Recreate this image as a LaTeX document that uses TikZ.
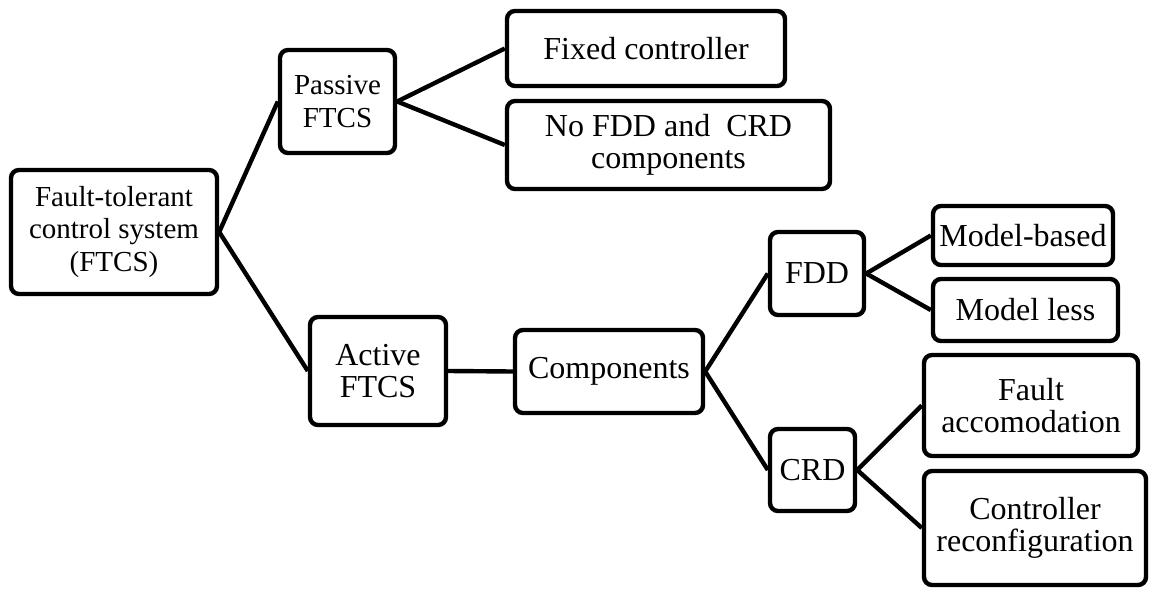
\documentclass[tikz,border=0pt]{standalone}
\usepackage{fontspec}
\setmainfont{Liberation Serif}
\begin{document}
\begin{tikzpicture}[x=0.5pt,y=-0.5pt,
  box/.style={draw=black,line width=2.2pt,rounded corners=4pt,align=center,inner sep=0pt,
    font=\fontsize{16}{16.3}\selectfont},
  smallbox/.style={box,font=\fontsize{14.5}{16.3}\selectfont},
  link/.style={line width=2.2pt}]
\useasboundingbox (0,0) rectangle (1149,588);
\node[smallbox,minimum width=103pt,minimum height=62pt] (root) at (114,232) {Fault-tolerant\\control system\\(FTCS)};
\node[smallbox,minimum width=57.5pt,minimum height=51.5pt] (passive) at (337.5,101.5) {Passive\\FTCS};
\node[box,minimum width=139pt,minimum height=37.5pt] (fixed) at (646,48.5) {Fixed controller};
\node[box,minimum width=161.5pt,minimum height=44pt] (nofdd) at (668.5,145) {No FDD and\ \ CRD\\components};
\node[box,minimum width=68pt,minimum height=54pt] (active) at (378,371) {Active\\FTCS};
\node[box,minimum width=94pt,minimum height=41.5pt] (comp) at (609,371.5) {Components};
\node[box,minimum width=47pt,minimum height=41.5pt] (fdd) at (817,273.5) {FDD};
\node[box,minimum width=90pt,minimum height=29.5pt] (mb) at (1023,235.5) {Model-based};
\node[box,minimum width=92.5pt,minimum height=31pt] (ml) at (1025.5,310) {Model less};
\node[box,minimum width=42.5pt,minimum height=41pt] (crd) at (812.5,470) {CRD};
\node[box,minimum width=107pt,minimum height=50.5pt] (fa) at (1031,405.5) {Fault\\accomodation};
\node[box,minimum width=111pt,minimum height=57pt] (cr) at (1035,528) {Controller\\reconfiguration};
\draw[link] (root.east) -- (passive.west);
\draw[link] (root.east) -- (active.west);
\draw[link] (passive.east) -- (fixed.west);
\draw[link] (passive.east) -- (nofdd.west);
\draw[link] (active.east) -- (comp.west);
\draw[link] (comp.east) -- (fdd.west);
\draw[link] (comp.east) -- (crd.west);
\draw[link] (fdd.east) -- (mb.west);
\draw[link] (fdd.east) -- (ml.west);
\draw[link] (crd.east) -- (fa.west);
\draw[link] (crd.east) -- (cr.west);
\end{tikzpicture}
\end{document}
